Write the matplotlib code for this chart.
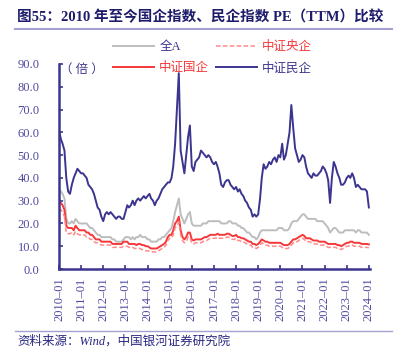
import numpy as np
import pandas as pd
import matplotlib
matplotlib.use("Agg")
import matplotlib.pyplot as plt

plt.rcParams['font.family'] = ['Liberation Serif', 'Noto Sans CJK SC']

# monthly PE(TTM), 2010-01 .. 2024-01
pe_all = [35, 34, 33, 31, 22, 20, 20, 21, 20, 22, 21, 20,
          20, 20, 20, 20, 19, 18, 18, 17, 16, 15, 15, 14,
          14, 14, 14, 14, 14, 13, 13, 12, 12, 12, 12, 13,
          14, 14, 14, 13, 14, 13, 14, 14, 15, 14, 14, 14,
          13, 13, 12, 12, 12, 12, 13, 13, 14, 14, 15, 16,
          17, 18, 21, 25, 28, 31, 24, 22, 20, 22, 24, 25,
          20, 19, 19, 19, 19, 19, 20, 20, 20, 21, 21, 21,
          21, 21, 21, 21, 20, 20, 20, 20, 21, 21, 20, 20,
          20, 19, 19, 18, 18, 17, 16, 16, 15, 14, 14, 13,
          14, 16, 17, 17, 17, 17, 17, 17, 17, 17, 17, 18,
          18, 18, 17, 17, 17, 18, 20, 21, 21, 21, 22, 23,
          24, 24, 23, 22, 22, 22, 22, 22, 21, 21, 21, 21,
          20, 19, 18, 16, 17, 18, 18, 17, 16, 16, 16, 17,
          17, 17, 17, 17, 17, 16, 17, 17, 16, 16, 16, 16,
          15]
pe_soe = [29.5, 29, 28, 26, 19, 18, 18, 18, 17, 19, 18, 17,
          17, 17, 17, 16, 16, 15, 15, 14, 13, 13, 13, 12,
          12, 12, 12, 12, 12, 11, 11, 11, 11, 11, 11, 12,
          12, 12, 11, 11, 11, 11, 10.5, 11, 11, 10.5, 10.5, 10,
          10, 9.5, 9, 9, 9, 9, 9.5, 10, 10.5, 11, 12, 14,
          15, 15, 17, 20, 21, 23, 17, 14, 13, 14, 16, 16,
          13, 12.5, 13, 13, 13, 13, 13.5, 14, 14, 14.5, 15, 15,
          15, 15, 15.5, 15, 15, 15, 15, 15.5, 15.5, 15, 14.5, 14.5,
          15, 14, 14, 13.5, 13.5, 13, 12.5, 12, 12, 11, 11, 10.5,
          11, 12, 13, 12.5, 12, 12, 11.5, 11.5, 11.5, 11.5, 11.5, 11.5,
          11.5, 11, 10.5, 10.5, 10.5, 11, 12, 13, 13, 13.5, 14, 14.5,
          15, 14.5, 13.5, 13.5, 13.5, 13, 12.5, 12.5, 12.5, 12, 12, 12,
          12, 11.5, 11, 11, 11, 11, 11, 10.5, 10.5, 10, 10.5, 11,
          11.5, 11.5, 12, 12, 11.5, 11.5, 11.5, 11.5, 11, 11, 11, 11,
          10.8]
pe_central = [26.5, 26, 25, 23, 16, 15.5, 15.5, 16, 15, 16.5, 15.5, 15,
              15, 15, 15, 14, 14, 13, 13, 12, 11.5, 11.5, 11, 10.5,
              10.5, 10.5, 10.5, 10.5, 10.5, 9.5, 9.5, 9.5, 9.5, 9.5, 9.5, 10,
              10, 10, 9.5, 9.5, 9.5, 9, 9, 9, 9, 8.5, 8.5, 8,
              8, 7.8, 7.5, 7.5, 7.5, 7.5, 8, 8.5, 9, 9.5, 10.5, 12.5,
              13.5, 13.5, 15, 18, 19, 20.5, 15, 12.5, 11.5, 12, 14, 14,
              11.5, 11, 11.5, 11.5, 11.5, 11.5, 12, 12.5, 12.5, 13, 13.5, 13.5,
              13.5, 13.5, 14, 13.5, 13.5, 13.5, 13.5, 14, 14, 13.5, 13, 13,
              13.5, 12.5, 12.5, 12, 12, 11.5, 11, 10.5, 10.5, 9.5, 9.5, 9,
              9.5, 10.5, 11.5, 11, 10.5, 10.5, 10, 10, 10, 10, 10, 10,
              10, 9.5, 9, 9, 9, 9.5, 10.5, 11.5, 11.5, 12, 12.5, 13,
              13.5, 13, 12, 12, 12, 11.5, 11, 11, 11, 10.5, 10.5, 10.5,
              10.5, 10, 9.5, 9.5, 9.5, 9.5, 9.5, 9, 9, 8.5, 9, 9.5,
              10, 10, 10.5, 10.5, 10, 10, 10, 10, 9.5, 9.5, 9.5, 9.5,
              9.3]
pe_private = [61, 57, 55, 52, 40, 34, 33, 37, 40, 42, 44, 43,
              42, 42, 41, 40, 37, 36, 35, 33, 30, 27, 26, 23,
              21, 24, 25, 24, 25, 24, 23, 22, 23, 23, 22, 22,
              25, 28, 27, 28, 30, 28, 30, 31, 30, 31, 32, 31,
              32, 33, 31, 30, 28, 30, 31, 33, 35, 36, 37, 38,
              38, 40, 45, 55, 70, 86, 52, 47, 42, 50, 58, 63,
              45, 43, 47, 48, 49, 52, 51, 50, 49, 50, 49, 47,
              46, 47, 45, 42, 37, 36, 38, 39, 39, 37, 36, 35,
              36, 34, 35, 33, 32, 30, 29, 27, 26, 23, 24, 23,
              24, 31, 40, 46, 44, 45, 47, 46, 48, 49, 47, 50,
              49, 55, 48, 50, 55, 60, 72, 62, 53, 50, 47, 48,
              50, 49, 45, 42, 41, 40, 42, 41, 41, 42, 43, 45,
              44, 42, 39, 29, 40, 47, 45, 42, 40, 37, 37, 38,
              40, 41, 40, 42, 40, 36, 37, 36, 35, 35, 35, 34,
              27]
dates = pd.date_range('2010-01-01', periods=len(pe_all), freq='MS')

tick_years = list(range(2010, 2025))
tick_labels = ['%d\u201301' % y for y in tick_years]
y_ticks = np.arange(0, 91, 10)

navy = '#3b358f'
red = '#f5383a'
pink = '#ff8a8a'
grey = '#bdbdbd'

fig = plt.figure(figsize=(4.01, 3.51), dpi=100)
ax = fig.add_axes([59/401, 82/351, 311/401, 205/351])

ax.plot(dates, pe_all, color=grey, lw=1.4, label='全A')
ax.plot(dates, pe_soe, color=red, lw=1.4, label='中证国企')
ax.plot(dates, pe_central, color=pink, lw=1.1, ls=(0, (3, 1.5)), label='中证央企')
ax.plot(dates, pe_private, color=navy, lw=1.4, label='中证民企')

ax.set_xlim(pd.Timestamp('2010-01-01'), pd.Timestamp('2024-01-20'))
ax.set_ylim(0, 90)
ax.set_yticks(y_ticks)
ax.set_yticklabels(['%.1f' % v for v in y_ticks])
ax.set_xticks([pd.Timestamp('%d-01-01' % y) for y in tick_years])
ax.set_xticklabels(tick_labels, rotation=90)

for s in ['top', 'right']:
    ax.spines[s].set_visible(False)
for s in ['left', 'bottom']:
    ax.spines[s].set_color(navy)
    ax.spines[s].set_linewidth(1.8)
ax.tick_params(direction='in', length=3, width=1.2, color=navy,
               labelcolor='#4f4a9e', labelsize=9)
ax.tick_params(axis='y', pad=14)
ax.tick_params(axis='x', pad=6)

leg = fig.legend(loc='upper left', bbox_to_anchor=(113/401, 1 - 41/351),
                 ncol=2, frameon=False, fontsize=9, handlelength=3.3,
                 handletextpad=0.4, columnspacing=0.5, labelspacing=0.75,
                 borderpad=0, borderaxespad=0)
for t, c in zip(leg.get_texts(), [navy, red, red, navy]):
    t.set_color(c)

fig.text(60/401, 1 - 70/351, '（ 倍 ）', fontsize=9, color=navy, va='center')

fig.text(17/401, 1 - 17/351, '图55：2010 年至今国企指数、民企指数 PE（TTM）比较',
         fontsize=10.5, fontweight='bold', color='#1f1d6b', va='center')
fig.add_artist(plt.Line2D([15/401, 392/401], [1 - 29/351, 1 - 29/351],
                          color='#a3a1d1', lw=1.5))
fig.add_artist(plt.Line2D([15/401, 392/401], [1 - 331/351, 1 - 331/351],
                          color='#a3a1d1', lw=1.0))
fig.text(17/401, 1 - 341/351, '资料来源：Wind，中国银河证券研究院',
         fontsize=9, style='italic', color='#2a2780', va='center')

fig.savefig('out.png', dpi=100)
